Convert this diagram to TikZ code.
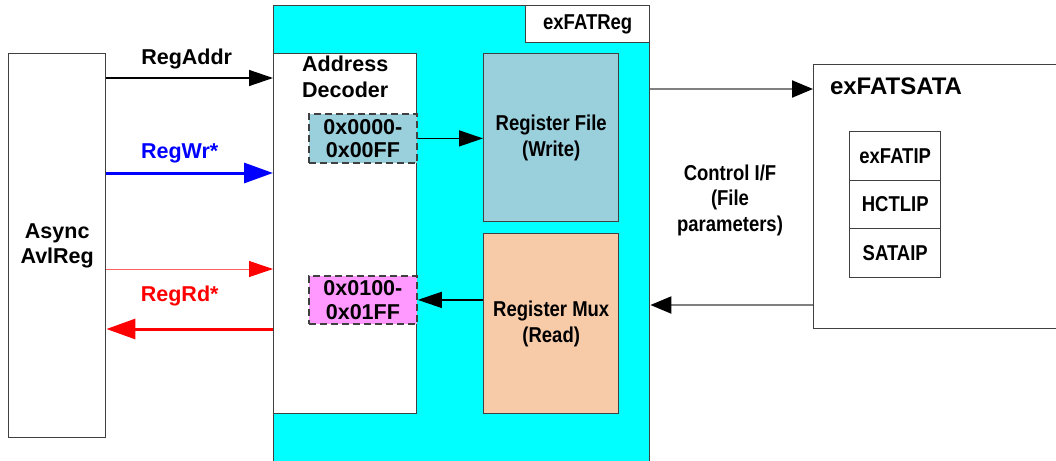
\documentclass[tikz,border=0pt]{standalone}
\usepackage{fontspec}
\setmainfont{Liberation Sans}
\newfontfamily\condfont[FakeStretch=0.86]{Liberation Sans}
\usetikzlibrary{arrows.meta}

\definecolor{regcyan}{HTML}{00FFFF}
\definecolor{wrfill}{HTML}{9ACFDC}
\definecolor{rdfill}{HTML}{F8CBA8}
\definecolor{rangepink}{HTML}{FF99FF}
\definecolor{boxline}{HTML}{404040}
\definecolor{lightred}{HTML}{FF6060}

\tikzset{
  bigfont/.style={font=\fontsize{21.5}{25.5}\selectfont\bfseries},
  condfont/.style={font=\condfont\fontsize{21.5}{25.5}\selectfont\bfseries},
  blk/.style={draw=boxline, line width=1.4pt, anchor=north west, inner sep=0pt,
    align=center, condfont},
  rangebox/.style={blk, dashed, dash pattern=on 7pt off 4pt, line width=1.8pt,
    font=\fontsize{21.5}{23.5}\selectfont\bfseries},
  ipbox/.style={blk, minimum width=91pt, minimum height=48.5pt},
  lbl/.style={bigfont, align=center},
  tip/.style={-{Triangle[length=24pt,width=16pt]}},
  bigtip/.style={-{Triangle[length=29pt,width=20pt]}},
}

\begin{document}
\begin{tikzpicture}[x=1pt,y=-1pt]
			\clip (0,0) rectangle (1056,460);
			\fill [white] (0,0) rectangle (1056,460);

			% blocks
			\node [blk, bigfont, minimum width=97pt, minimum height=384pt] (avl) at (8,53) {Async\\AvlReg};
			\node [blk, fill=regcyan, minimum width=376pt, minimum height=470pt] (reg) at (273,5) {};
			\node [blk, fill=white, minimum width=124pt, minimum height=37pt] (regname) at (525,5) {exFATReg};
			\node [blk, fill=white, minimum width=143pt, minimum height=360pt] (dec) at (273,53) {};
			\node [lbl, anchor=north, inner sep=0pt] (decname) at ([yshift=-3pt]dec.north) {Address\\Decoder};
			\node [rangebox, fill=wrfill, minimum width=108pt, minimum height=49pt] (wrrange) at (308,113) {0x0000-\\0x00FF};
			\node [rangebox, fill=rangepink, minimum width=108pt, minimum height=48pt] (rdrange) at (308,275) {0x0100-\\0x01FF};
			\node [blk, fill=wrfill, minimum width=135pt, minimum height=168pt] (rfile) at (483,53) {Register File\\(Write)};
			\node [blk, fill=rdfill, minimum width=135pt, minimum height=180pt] (rmux) at (483,233) {Register Mux\\(Read)};

			\node [blk, fill=white, minimum width=260pt, minimum height=264pt] (sata) at (813,64) {};
			\node [font=\fontsize{24}{28}\selectfont\bfseries] (sataname) at (896,86) {exFATSATA};
			\node [ipbox] (fatip) at (849,131) {exFATIP};
			\node [ipbox] (hctlip) at (849,179.5) {HCTLIP};
			\node [ipbox] (sataip) at (849,228) {SATAIP};

			\node [condfont, align=center] (ctrl) at (730,200) {Control I/F\\(File\\parameters)};

			% signal levels
			\coordinate (yaddr) at (0,78);
			\coordinate (ywr) at (0,173);
			\coordinate (yrdreq) at (0,269);
			\coordinate (yrd) at (0,329);
			\coordinate (ytosata) at (0,89);
			\coordinate (yfromsata) at (0,305);

			% Avalon side
			\draw [tip, line width=1.4pt, black] (avl.east |- yaddr) -- (dec.west |- yaddr)
				node [lbl, midway, above=5pt, xshift=-3pt] (addrlbl) {RegAddr};
			\draw [bigtip, line width=3pt, blue] (avl.east |- ywr) -- (dec.west |- ywr)
				node [lbl, midway, above=5pt, text=blue, xshift=-10pt] (wrlbl) {RegWr*};
			\draw [line width=1pt, lightred, -{Triangle[length=24pt,width=16pt,color=red]}] (avl.east |- yrdreq) -- (dec.west |- yrdreq);
			\draw [bigtip, line width=3pt, red] (dec.west |- yrd) -- (avl.east |- yrd)
				node [lbl, midway, above=18pt, text=red, xshift=-10pt] (rdlbl) {RegRd*};

			% inside exFATReg
			\draw [tip, line width=1.4pt] (wrrange.east) -- (rfile.west |- wrrange.east);
			\draw [tip, line width=1.4pt] (rmux.west |- rdrange.east) -- (rdrange.east);

			% to/from exFATSATA
			\draw [line width=2pt, gray, -{Triangle[length=21pt,width=17pt,color=black]}] (reg.east |- ytosata) -- (sata.west |- ytosata);
			\draw [line width=2pt, gray, -{Triangle[length=21pt,width=17pt,color=black]}] (sata.west |- yfromsata) -- (reg.east |- yfromsata);
		\end{tikzpicture}
\end{document}
